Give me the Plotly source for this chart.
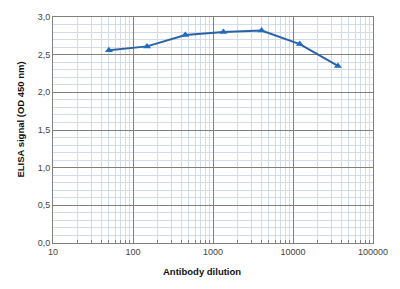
import plotly.graph_objects as go

dilution = [50, 150, 450, 1350, 4050, 12150, 36450]
signal = [2.56, 2.61, 2.76, 2.80, 2.82, 2.64, 2.35]

x_tickvals = [10, 100, 1000, 10000, 100000]
x_ticktext = ["10", "100", "1000", "10000", "100000"]
y_tickvals = [0.0, 0.5, 1.0, 1.5, 2.0, 2.5, 3.0]
y_ticktext = ["0,0", "0,5", "1,0", "1,5", "2,0", "2,5", "3,0"]

x_minor = [m * 10 ** d for d in range(1, 5) for m in range(2, 10)]
y_minor = [round(i * 0.1, 1) for i in range(0, 31) if i % 5 != 0]

fig = go.Figure()
fig.add_trace(go.Scatter(
    x=dilution, y=signal, mode="lines+markers",
    line=dict(color="#2a62a8", width=2),
    marker=dict(symbol="triangle-up", size=7, color="#1f6bbd"),
    showlegend=False,
))

fig.update_layout(
    width=400, height=289,
    margin=dict(l=53, r=26, t=15, b=46),
    paper_bgcolor="white", plot_bgcolor="white",
    font=dict(family="Liberation Sans, Arial, sans-serif", size=9, color="#333333"),
    annotations=[
        dict(text="<b>Antibody dilution</b>", xref="paper", yref="paper",
             x=0.467, y=-0.127, xanchor="center", yanchor="middle",
             showarrow=False, font=dict(size=9.5, color="#111111")),
        dict(text="<b>ELISA signal (OD 450 nm)</b>", xref="paper", yref="paper",
             x=-0.10, y=0.546, xanchor="center", yanchor="middle", textangle=-90,
             showarrow=False, font=dict(size=9.5, color="#111111")),
    ],
)
fig.update_xaxes(
    type="log", range=[1, 5],
    tickmode="array", tickvals=x_tickvals, ticktext=x_ticktext,
    showgrid=True, gridcolor="#808080", gridwidth=1,
    showline=True, linecolor="#808080", linewidth=1, mirror=True,
    ticks="", zeroline=False,
    minor=dict(tickmode="array", tickvals=x_minor, showgrid=True,
               gridcolor="#d3dcea", gridwidth=1, ticks="inside", ticklen=3,
               tickcolor="#808080"),
    tickfont=dict(size=9, color="#444444"),
)
fig.update_yaxes(
    range=[0, 3.0],
    tickmode="array", tickvals=y_tickvals, ticktext=y_ticktext,
    showgrid=True, gridcolor="#808080", gridwidth=1,
    showline=True, linecolor="#808080", linewidth=1, mirror=True,
    ticks="", zeroline=False,
    minor=dict(tickmode="array", tickvals=y_minor, showgrid=True,
               gridcolor="#d3dcea", gridwidth=1),
    tickfont=dict(size=9, color="#444444"),
)

fig.write_html("out.html")
